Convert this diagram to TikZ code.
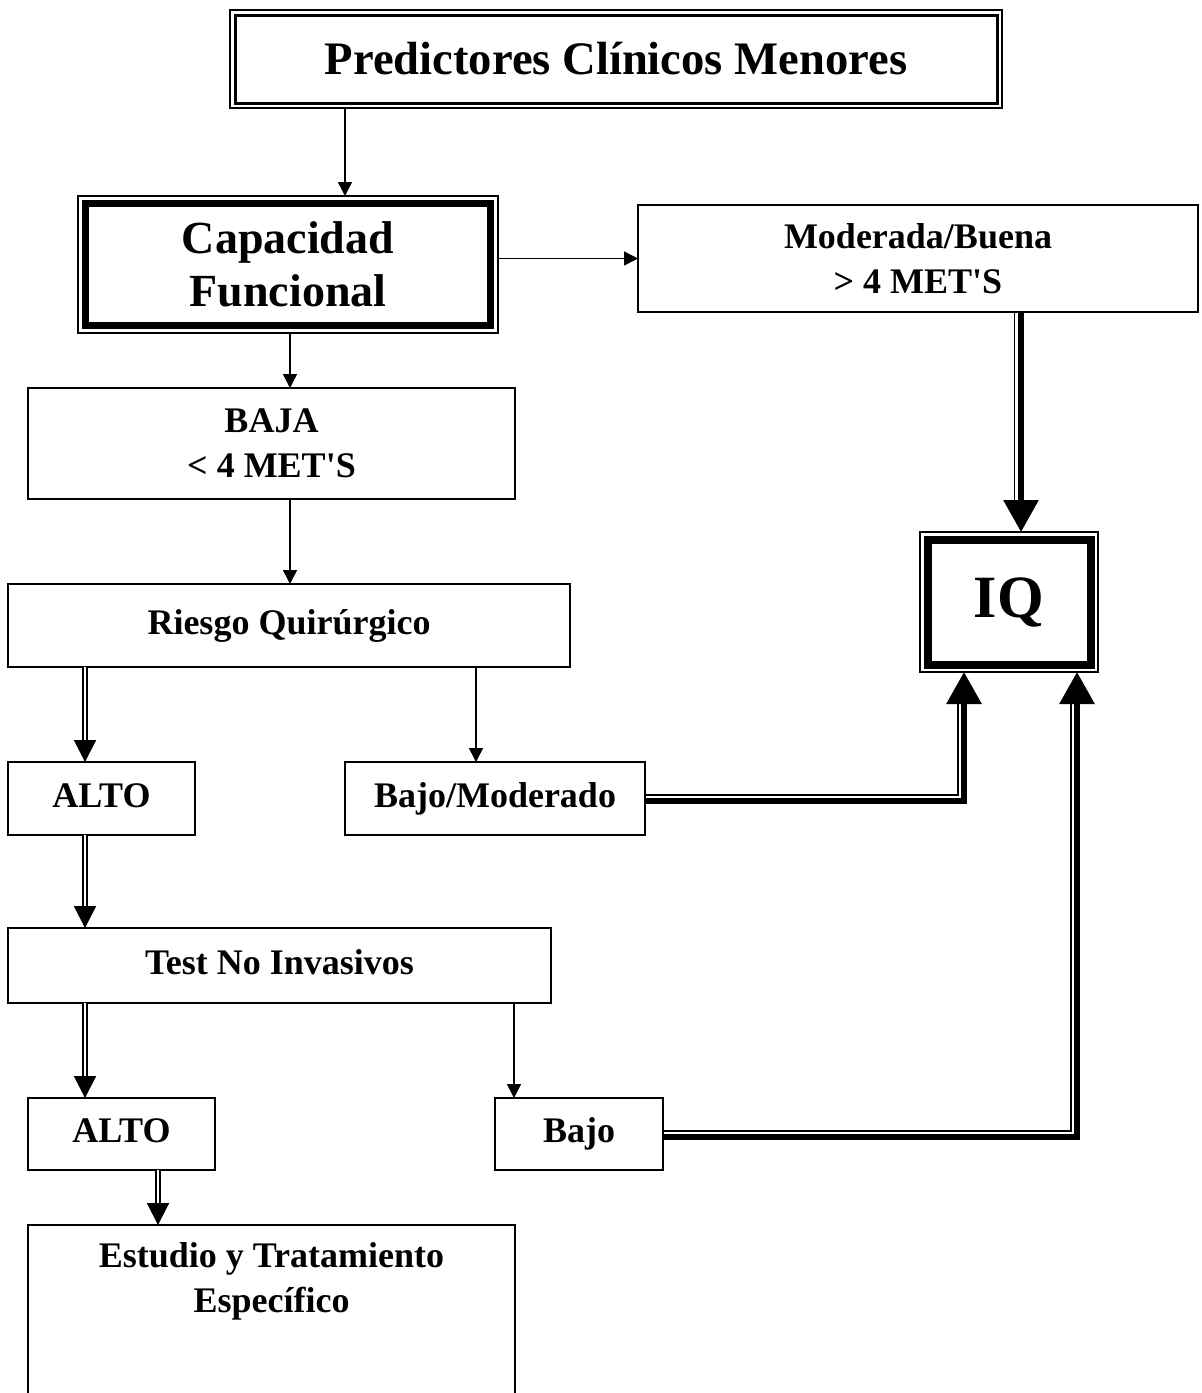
\documentclass[tikz,border=0pt]{standalone}
\usepackage{fontspec}
\setmainfont{Liberation Serif}
\usepackage{tikz}
\usetikzlibrary{positioning}
\usetikzlibrary{arrows.meta}
\tikzset{
  box/.style={draw, line width=0.75pt, inner sep=0pt, outer sep=0pt, align=center,
    font=\bfseries\fontsize{18}{22.5}\selectfont},
  oneline/.style={text height=12.5pt, text depth=4pt},
  thinarr/.style={line width=0.75pt, -{Triangle[width=7pt,length=7pt]}},
  dblarr/.style={double, line width=1pt, double distance=1.3pt,
    -{Triangle[width=11pt,length=11pt]}},
  thinrail/.style={line width=0.7pt, shorten >=9pt},
  thickrail/.style={line width=3pt, -{Triangle[width=17pt,length=16pt]}}
}

\begin{document}
\begin{tikzpicture}[x=1pt, y=-1pt]
\useasboundingbox (0,0) rectangle (601,696.5);
\clip (0,0) rectangle (601,696.5);

% ---------------- Framed boxes ----------------
\node[box, line width=0.6pt, minimum width=386pt, minimum height=49pt,
  font=\bfseries\fontsize{23.3}{28}\selectfont] (top) at (308,29.5) {Predictores Clínicos Menores};
\node[box, line width=0.6pt, minimum width=210pt, minimum height=68.5pt,
  font=\bfseries\fontsize{23}{26.5}\selectfont] (cap) at (144,132.25) {Capacidad\\Funcional};
\node[box, line width=0.6pt, minimum width=89pt, minimum height=70pt,
  font=\bfseries\fontsize{30}{36}\selectfont] (iq) at (504.5,301) {IQ};

% inner borders
\foreach \n/\d/\w in {top/2.5/1.5, cap/3.75/3.5, iq/3.75/4}{
  \draw[line width=\w pt] ([shift={(\d,\d)}]\n.north west) rectangle ([shift={(-\d,-\d)}]\n.south east);
}

% ---------------- Plain boxes ----------------
\node[box, minimum width=280pt, minimum height=53.5pt] (mod) at (459,129.25) {Moderada/Buena\\> 4 MET\textquotesingle S};
\node[box, minimum width=243.5pt, minimum height=55.5pt] (baja) at (135.75,221.75) {BAJA\\< 4 MET\textquotesingle S};
\node[box, oneline, minimum width=281pt, minimum height=41.5pt] (riesgo) at (144.5,312.75) {Riesgo Quirúrgico};
\node[box, oneline, minimum width=93.5pt, minimum height=36.5pt] (altoa) at (50.75,399.25) {ALTO};
\node[box, oneline, minimum width=150pt, minimum height=36.5pt] (bajomod) at (247.5,399.25) {Bajo/Moderado};
\node[box, oneline, minimum width=271.5pt, minimum height=37.5pt] (test) at (139.75,482.75) {Test No Invasivos};
\node[box, oneline, minimum width=93.5pt, minimum height=36pt] (altob) at (60.75,567) {ALTO};
\node[box, oneline, minimum width=84pt, minimum height=36pt] (bajo) at (289.5,567) {Bajo};
\node[box, minimum width=243.5pt, anchor=north, inner ysep=8.6pt, text depth=80pt] (estudio)
  at (135.75,612.5) {Estudio y Tratamiento\\Específico};

% ---------------- Columns ----------------
\coordinate (xa) at (172.5,0);
\coordinate (xb) at (145,0);
\coordinate (xc) at (42.5,0);
\coordinate (xd) at (238,0);
\coordinate (xe) at (257,0);
\coordinate (xf) at (79,0);
\coordinate (ka) at (510.5,0);
\coordinate (kat) at (507.25,0);
\coordinate (kb) at (482,0);
\coordinate (kbt) at (479,0);
\coordinate (kc) at (538.5,0);
\coordinate (kct) at (535.5,0);

% ---------------- Arrows ----------------
\draw[thinarr] (top.south -| xa) -- (cap.north -| xa);
\draw[thinarr] (cap.east |- mod.west) -- (mod.west);
\draw[thinarr] (cap.south -| xb) -- (baja.north -| xb);
\draw[thinarr] (baja.south -| xb) -- (riesgo.north -| xb);
\draw[dblarr] (riesgo.south -| xc) -- (altoa.north -| xc);
\draw[thinarr] (riesgo.south -| xd) -- (bajomod.north -| xd);
\draw[dblarr] (altoa.south -| xc) -- (test.north -| xc);
\draw[dblarr] (test.south -| xc) -- (altob.north -| xc);
\draw[thinarr] (test.south -| xe) -- (bajo.north -| xe);
\draw[dblarr] (altob.south -| xf) -- (estudio.north -| xf);

% ---------------- Rails into IQ ----------------
\draw[thinrail] (mod.south -| kat) -- (iq.north -| kat);
\draw[thickrail] (mod.south -| ka) -- (iq.north -| ka);
\draw[thinrail] ([yshift=1.75pt]bajomod.east) -| (iq.south -| kbt);
\draw[thickrail] ([yshift=-1.25pt]bajomod.east) -| (iq.south -| kb);
\draw[thinrail] ([yshift=1.5pt]bajo.east) -| (iq.south -| kct);
\draw[thickrail] ([yshift=-1.5pt]bajo.east) -| (iq.south -| kc);

\end{tikzpicture}
\end{document}
